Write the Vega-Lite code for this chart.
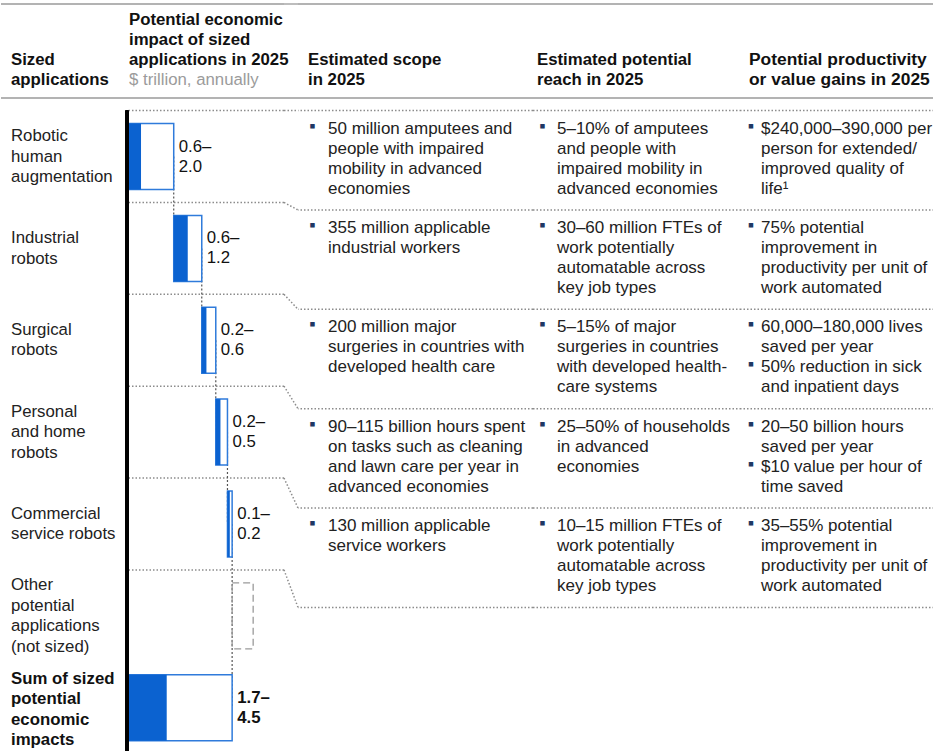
{
  "$schema": "https://vega.github.io/schema/vega-lite/v6.json",
  "autosize": {"type": "pad"},
  "padding": {"top": 3, "left": 0, "right": 0, "bottom": 0},
  "background": "white",
  "config": {
    "view": {"stroke": null},
    "font": "Liberation Sans",
    "text": {"font": "Liberation Sans", "fontSize": 16.8, "color": "#222222"}
  },
  "datasets": {
    "rows": [
      {"app": "Robotic human augmentation", "idx": 0, "label": "Robotic\nhuman\naugmentation", "start": 0, "lowEnd": 0.6, "highEnd": 2.0, "range": "0.6–\n2.0",
       "scope": "50 million amputees and\npeople with impaired\nmobility in advanced\neconomies",
       "reach": "5–10% of amputees\nand people with\nimpaired mobility in\nadvanced economies",
       "gains": "$240,000–390,000 per\nperson for extended/\nimproved quality of\nlife¹", "gainsBullets": 1},
      {"app": "Industrial robots", "idx": 1, "label": "Industrial\nrobots", "start": 2.0, "lowEnd": 2.6, "highEnd": 3.2, "range": "0.6–\n1.2",
       "scope": "355 million applicable\nindustrial workers",
       "reach": "30–60 million FTEs of\nwork potentially\nautomatable across\nkey job types",
       "gains": "75% potential\nimprovement in\nproductivity per unit of\nwork automated", "gainsBullets": 1},
      {"app": "Surgical robots", "idx": 2, "label": "Surgical\nrobots", "start": 3.2, "lowEnd": 3.4, "highEnd": 3.8, "range": "0.2–\n0.6",
       "scope": "200 million major\nsurgeries in countries with\ndeveloped health care",
       "reach": "5–15% of major\nsurgeries in countries\nwith developed health-\ncare systems",
       "gains": "60,000–180,000 lives\nsaved per year\n50% reduction in sick\nand inpatient days", "gainsBullets": 2},
      {"app": "Personal and home robots", "idx": 3, "label": "Personal\nand home\nrobots", "start": 3.8, "lowEnd": 4.0, "highEnd": 4.3, "range": "0.2–\n0.5",
       "scope": "90–115 billion hours spent\non tasks such as cleaning\nand lawn care per year in\nadvanced economies",
       "reach": "25–50% of households\nin advanced\neconomies",
       "gains": "20–50 billion hours\nsaved per year\n$10 value per hour of\ntime saved", "gainsBullets": 2},
      {"app": "Commercial service robots", "idx": 4, "label": "Commercial\nservice robots", "start": 4.3, "lowEnd": 4.4, "highEnd": 4.5, "range": "0.1–\n0.2",
       "scope": "130 million applicable\nservice workers",
       "reach": "10–15 million FTEs of\nwork potentially\nautomatable across\nkey job types",
       "gains": "35–55% potential\nimprovement in\nproductivity per unit of\nwork automated", "gainsBullets": 1},
      {"app": "Other potential applications (not sized)", "idx": 5, "label": "Other\npotential\napplications\n(not sized)", "start": 4.5, "boxEnd": 5.4},
      {"app": "Sum of sized potential economic impacts", "idx": 6, "label": "Sum of sized\npotential\neconomic\nimpacts", "bold": true, "start": 0, "lowEnd": 1.7, "highEnd": 4.5, "range": "1.7–\n4.5"}
    ],
    "links": [
      {"link": 1, "app": "Robotic human augmentation", "at": 2.0},
      {"link": 1, "app": "Industrial robots", "at": 2.0},
      {"link": 2, "app": "Industrial robots", "at": 3.2},
      {"link": 2, "app": "Surgical robots", "at": 3.2},
      {"link": 3, "app": "Surgical robots", "at": 3.8},
      {"link": 3, "app": "Personal and home robots", "at": 3.8},
      {"link": 4, "app": "Personal and home robots", "at": 4.3},
      {"link": 4, "app": "Commercial service robots", "at": 4.3},
      {"link": 5, "app": "Commercial service robots", "at": 4.5},
      {"link": 5, "app": "Sum of sized potential economic impacts", "at": 4.5}
    ],
    "bends": [
      {"app": "Robotic human augmentation", "side": "L", "shift": 0},
      {"app": "Robotic human augmentation", "side": "R", "shift": 0},
      {"app": "Industrial robots", "side": "L", "shift": 0},
      {"app": "Industrial robots", "side": "R", "shift": 1},
      {"app": "Surgical robots", "side": "L", "shift": 0},
      {"app": "Surgical robots", "side": "R", "shift": 2},
      {"app": "Personal and home robots", "side": "L", "shift": 0},
      {"app": "Personal and home robots", "side": "R", "shift": 3},
      {"app": "Commercial service robots", "side": "L", "shift": 0},
      {"app": "Commercial service robots", "side": "R", "shift": 4},
      {"app": "Other potential applications (not sized)", "side": "L", "shift": 0},
      {"app": "Other potential applications (not sized)", "side": "R", "shift": 5}
    ]
  },
  "spacing": 8.6,
  "bounds": "full",
  "vconcat": [
    {
      "spacing": 0,
      "bounds": "flush",
      "hconcat": [
        {"width": 126, "height": 94, "data": {"values": [{}]}, "layer": [
          {"mark": {"type": "rule", "stroke": "#9a9a9a", "strokeWidth": 1.3}, "encoding": {"y": {"value": 0}}},
          {"mark": {"type": "rule", "stroke": "#b3b3b3", "strokeWidth": 2}, "encoding": {"y": {"value": "height"}}},
          {"mark": {"type": "text", "text": ["Sized", "applications"], "align": "left", "baseline": "alphabetic", "lineHeight": 20, "fontWeight": "bold", "dx": 10, "dy": 60.5, "color": "#111111"}, "encoding": {"x": {"value": 0}, "y": {"value": 0}}}
        ]},
        {"width": 157, "height": 94, "data": {"values": [{}]}, "layer": [
          {"mark": {"type": "rule", "stroke": "#9a9a9a", "strokeWidth": 1.3}, "encoding": {"y": {"value": 0}}},
          {"mark": {"type": "rule", "stroke": "#b3b3b3", "strokeWidth": 2}, "encoding": {"y": {"value": "height"}}},
          {"mark": {"type": "text", "text": ["Potential economic", "impact of sized", "applications in 2025"], "align": "left", "baseline": "alphabetic", "lineHeight": 20, "fontWeight": "bold", "dx": 2, "dy": 20.5, "color": "#111111"}, "encoding": {"x": {"value": 0}, "y": {"value": 0}}},
          {"mark": {"type": "text", "text": "$ trillion, annually", "align": "left", "baseline": "alphabetic", "dx": 2, "dy": 80.5, "color": "#9b9b9b"}, "encoding": {"x": {"value": 0}, "y": {"value": 0}}}
        ]},
        {"width": 14, "height": 94, "data": {"values": [{}]}, "layer": [
          {"mark": {"type": "rule", "stroke": "#9a9a9a", "strokeWidth": 1.3}, "encoding": {"y": {"value": 0}}},
          {"mark": {"type": "rule", "stroke": "#b3b3b3", "strokeWidth": 2}, "encoding": {"y": {"value": "height"}}}
        ]},
        {"width": 235, "height": 94, "data": {"values": [{}]}, "layer": [
          {"mark": {"type": "rule", "stroke": "#9a9a9a", "strokeWidth": 1.3}, "encoding": {"y": {"value": 0}}},
          {"mark": {"type": "rule", "stroke": "#b3b3b3", "strokeWidth": 2}, "encoding": {"y": {"value": "height"}}},
          {"mark": {"type": "text", "text": ["Estimated scope", "in 2025"], "align": "left", "baseline": "alphabetic", "lineHeight": 20, "fontWeight": "bold", "dx": 10, "dy": 60.5, "color": "#111111"}, "encoding": {"x": {"value": 0}, "y": {"value": 0}}}
        ]},
        {"width": 208, "height": 94, "data": {"values": [{}]}, "layer": [
          {"mark": {"type": "rule", "stroke": "#9a9a9a", "strokeWidth": 1.3}, "encoding": {"y": {"value": 0}}},
          {"mark": {"type": "rule", "stroke": "#b3b3b3", "strokeWidth": 2}, "encoding": {"y": {"value": "height"}}},
          {"mark": {"type": "text", "text": ["Estimated potential", "reach in 2025"], "align": "left", "baseline": "alphabetic", "lineHeight": 20, "fontWeight": "bold", "dx": 4, "dy": 60.5, "color": "#111111"}, "encoding": {"x": {"value": 0}, "y": {"value": 0}}}
        ]},
        {"width": 193, "height": 94, "data": {"values": [{}]}, "layer": [
          {"mark": {"type": "rule", "stroke": "#9a9a9a", "strokeWidth": 1.3}, "encoding": {"y": {"value": 0}}},
          {"mark": {"type": "rule", "stroke": "#b3b3b3", "strokeWidth": 2}, "encoding": {"y": {"value": "height"}}},
          {"mark": {"type": "text", "text": ["Potential productivity", "or value gains in 2025"], "align": "left", "baseline": "alphabetic", "lineHeight": 20, "fontWeight": "bold", "fontSize": 17.4, "dx": 8, "dy": 60.5, "color": "#111111"}, "encoding": {"x": {"value": 0}, "y": {"value": 0}}}
        ]}
      ]
    },
    {
      "spacing": 0,
      "bounds": "flush",
      "hconcat": [
        {"width": 126, "height": 643, "data": {"name": "rows"},
         "encoding": {
           "x": {"value": 0},
           "y": {"field": "app", "type": "nominal", "scale": {"domain": ["Robotic human augmentation", "Industrial robots", "Surgical robots", "Personal and home robots", "Commercial service robots", "Other potential applications (not sized)", "Sum of sized potential economic impacts"], "paddingInner": 0, "paddingOuter": 0}, "axis": null},
           "text": {"field": "label"}
         },
         "layer": [
           {"transform": [{"filter": "!datum.bold && split(datum.label, '\\n').length == 2"}],
            "mark": {"type": "text", "align": "left", "baseline": "middle", "lineBreak": "\n", "lineHeight": 20.5, "dx": 10, "dy": -10.25}},
           {"transform": [{"filter": "!datum.bold && split(datum.label, '\\n').length == 3"}],
            "mark": {"type": "text", "align": "left", "baseline": "middle", "lineBreak": "\n", "lineHeight": 20.5, "dx": 10, "dy": -20.5}},
           {"transform": [{"filter": "!datum.bold && split(datum.label, '\\n').length == 4"}],
            "mark": {"type": "text", "align": "left", "baseline": "middle", "lineBreak": "\n", "lineHeight": 20.5, "dx": 10, "dy": -30.75}},
           {"transform": [{"filter": "datum.bold"}],
            "mark": {"type": "text", "align": "left", "baseline": "middle", "lineBreak": "\n", "lineHeight": 20.5, "dx": 10, "dy": -28.75, "fontWeight": "bold", "color": "#111111"}}
         ]},
        {"width": 157, "height": 643, "data": {"name": "rows"},
         "layer": [
           {"transform": [{"filter": "datum.idx <= 5"}],
            "mark": {"type": "rule", "stroke": "#8c8c8c", "strokeWidth": 1.5, "strokeDash": [1.5, 2]},
            "encoding": {"y": {"field": "app", "type": "nominal", "bandPosition": 0, "scale": {"domain": ["Robotic human augmentation", "Industrial robots", "Surgical robots", "Personal and home robots", "Commercial service robots", "Other potential applications (not sized)", "Sum of sized potential economic impacts"], "paddingInner": 0, "paddingOuter": 0}, "axis": null}}},
           {"data": {"name": "links"},
            "mark": {"type": "line", "stroke": "#555555", "strokeWidth": 1.2, "strokeDash": [2, 2]},
            "encoding": {
              "x": {"field": "at", "type": "quantitative", "scale": {"domain": [0, 6.72], "nice": false, "zero": true}, "axis": null},
              "y": {"field": "app", "type": "nominal", "scale": {"domain": ["Robotic human augmentation", "Industrial robots", "Surgical robots", "Personal and home robots", "Commercial service robots", "Other potential applications (not sized)", "Sum of sized potential economic impacts"], "paddingInner": 0, "paddingOuter": 0}, "axis": null},
              "detail": {"field": "link", "type": "nominal"}
            }},
           {"transform": [{"filter": "datum.lowEnd != null"}],
            "mark": {"type": "bar", "fill": "white", "stroke": "#2F7BDB", "strokeWidth": 1.5, "height": 66},
            "encoding": {
              "x": {"field": "start", "type": "quantitative", "scale": {"domain": [0, 6.72], "nice": false, "zero": true}, "axis": null},
              "x2": {"field": "highEnd"},
              "y": {"field": "app", "type": "nominal", "scale": {"domain": ["Robotic human augmentation", "Industrial robots", "Surgical robots", "Personal and home robots", "Commercial service robots", "Other potential applications (not sized)", "Sum of sized potential economic impacts"], "paddingInner": 0, "paddingOuter": 0}, "axis": null}
            }},
           {"transform": [{"filter": "datum.lowEnd != null"}],
            "mark": {"type": "bar", "fill": "#0B62D0", "height": 66},
            "encoding": {
              "x": {"field": "start", "type": "quantitative", "scale": {"domain": [0, 6.72], "nice": false, "zero": true}, "axis": null},
              "x2": {"field": "lowEnd"},
              "y": {"field": "app", "type": "nominal", "scale": {"domain": ["Robotic human augmentation", "Industrial robots", "Surgical robots", "Personal and home robots", "Commercial service robots", "Other potential applications (not sized)", "Sum of sized potential economic impacts"], "paddingInner": 0, "paddingOuter": 0}, "axis": null}
            }},
           {"transform": [{"filter": "datum.boxEnd != null"}],
            "mark": {"type": "bar", "fill": "white", "fillOpacity": 0, "stroke": "#9a9a9a", "strokeWidth": 1.3, "strokeDash": [7, 4], "height": 66},
            "encoding": {
              "x": {"field": "start", "type": "quantitative", "scale": {"domain": [0, 6.72], "nice": false, "zero": true}, "axis": null},
              "x2": {"field": "boxEnd"},
              "y": {"field": "app", "type": "nominal", "scale": {"domain": ["Robotic human augmentation", "Industrial robots", "Surgical robots", "Personal and home robots", "Commercial service robots", "Other potential applications (not sized)", "Sum of sized potential economic impacts"], "paddingInner": 0, "paddingOuter": 0}, "axis": null}
            }},
           {"transform": [{"filter": "datum.range != null && !datum.bold"}],
            "mark": {"type": "text", "align": "left", "baseline": "middle", "lineBreak": "\n", "lineHeight": 20, "dx": 5, "dy": -10, "color": "#111111"},
            "encoding": {
              "x": {"field": "highEnd", "type": "quantitative", "scale": {"domain": [0, 6.72], "nice": false, "zero": true}, "axis": null},
              "y": {"field": "app", "type": "nominal", "scale": {"domain": ["Robotic human augmentation", "Industrial robots", "Surgical robots", "Personal and home robots", "Commercial service robots", "Other potential applications (not sized)", "Sum of sized potential economic impacts"], "paddingInner": 0, "paddingOuter": 0}, "axis": null},
              "text": {"field": "range"}
            }},
           {"transform": [{"filter": "datum.range != null && datum.bold"}],
            "mark": {"type": "text", "align": "left", "baseline": "middle", "lineBreak": "\n", "lineHeight": 20, "dx": 5, "dy": -10, "fontWeight": "bold", "color": "#111111"},
            "encoding": {
              "x": {"field": "highEnd", "type": "quantitative", "scale": {"domain": [0, 6.72], "nice": false, "zero": true}, "axis": null},
              "y": {"field": "app", "type": "nominal", "scale": {"domain": ["Robotic human augmentation", "Industrial robots", "Surgical robots", "Personal and home robots", "Commercial service robots", "Other potential applications (not sized)", "Sum of sized potential economic impacts"], "paddingInner": 0, "paddingOuter": 0}, "axis": null},
              "text": {"field": "range"}
            }},
           {"mark": {"type": "rule", "stroke": "#000000", "strokeWidth": 3},
            "encoding": {"x": {"datum": 0, "type": "quantitative", "scale": {"domain": [0, 6.72], "nice": false, "zero": true}, "axis": null}}}
         ]},
        {"width": 14, "height": 643, "data": {"name": "bends"},
         "mark": {"type": "line", "stroke": "#8c8c8c", "strokeWidth": 1.5, "strokeDash": [1.5, 2]},
         "encoding": {
           "x": {"field": "side", "type": "nominal", "scale": {"type": "point", "domain": ["L", "R"], "padding": 0}, "axis": null},
           "y": {"field": "app", "type": "nominal", "bandPosition": 0, "scale": {"domain": ["Robotic human augmentation", "Industrial robots", "Surgical robots", "Personal and home robots", "Commercial service robots", "Other potential applications (not sized)", "Sum of sized potential economic impacts"], "paddingInner": 0, "paddingOuter": 0}, "axis": null},
           "yOffset": {"field": "shift", "type": "quantitative", "scale": {"domain": [0, 12.25], "nice": false, "zero": true}},
           "detail": {"field": "app", "type": "nominal"}
         }},
        {"width": 235, "height": 643, "data": {"name": "rows"},
         "encoding": {
           "y": {"field": "app", "type": "nominal", "bandPosition": 0, "scale": {"domain": ["Robotic human augmentation", "Industrial robots", "Surgical robots", "Personal and home robots", "Commercial service robots", "Other potential applications (not sized)", "Sum of sized potential economic impacts"], "paddingInner": 0, "paddingOuter": 0}, "axis": null},
           "yOffset": {"field": "idx", "type": "quantitative", "scale": {"domain": [0, 12.25], "nice": false, "zero": true}}
         },
         "layer": [
           {"transform": [{"filter": "datum.idx <= 5"}],
            "mark": {"type": "rule", "stroke": "#8c8c8c", "strokeWidth": 1.5, "strokeDash": [1.5, 2]}},
           {"transform": [{"filter": "datum.scope != null"}],
            "mark": {"type": "text", "text": "▪", "align": "center", "baseline": "middle", "fontSize": 18, "dx": 14.5, "dy": 16, "color": "#1F3864"},
            "encoding": {"x": {"value": 0}}},
           {"transform": [{"filter": "datum.scope != null"}],
            "mark": {"type": "text", "align": "left", "baseline": "top", "lineBreak": "\n", "lineHeight": 20, "fontSize": 17, "dx": 30, "dy": 10},
            "encoding": {"x": {"value": 0}, "text": {"field": "scope"}}}
         ]},
        {"width": 208, "height": 643, "data": {"name": "rows"},
         "encoding": {
           "y": {"field": "app", "type": "nominal", "bandPosition": 0, "scale": {"domain": ["Robotic human augmentation", "Industrial robots", "Surgical robots", "Personal and home robots", "Commercial service robots", "Other potential applications (not sized)", "Sum of sized potential economic impacts"], "paddingInner": 0, "paddingOuter": 0}, "axis": null},
           "yOffset": {"field": "idx", "type": "quantitative", "scale": {"domain": [0, 12.25], "nice": false, "zero": true}}
         },
         "layer": [
           {"transform": [{"filter": "datum.idx <= 5"}],
            "mark": {"type": "rule", "stroke": "#8c8c8c", "strokeWidth": 1.5, "strokeDash": [1.5, 2]}},
           {"transform": [{"filter": "datum.reach != null"}],
            "mark": {"type": "text", "text": "▪", "align": "center", "baseline": "middle", "fontSize": 18, "dx": 9.5, "dy": 16, "color": "#1F3864"},
            "encoding": {"x": {"value": 0}}},
           {"transform": [{"filter": "datum.reach != null"}],
            "mark": {"type": "text", "align": "left", "baseline": "top", "lineBreak": "\n", "lineHeight": 20, "fontSize": 17, "dx": 24, "dy": 10},
            "encoding": {"x": {"value": 0}, "text": {"field": "reach"}}}
         ]},
        {"width": 193, "height": 643, "data": {"name": "rows"},
         "encoding": {
           "y": {"field": "app", "type": "nominal", "bandPosition": 0, "scale": {"domain": ["Robotic human augmentation", "Industrial robots", "Surgical robots", "Personal and home robots", "Commercial service robots", "Other potential applications (not sized)", "Sum of sized potential economic impacts"], "paddingInner": 0, "paddingOuter": 0}, "axis": null},
           "yOffset": {"field": "idx", "type": "quantitative", "scale": {"domain": [0, 12.25], "nice": false, "zero": true}}
         },
         "layer": [
           {"transform": [{"filter": "datum.idx <= 5"}],
            "mark": {"type": "rule", "stroke": "#8c8c8c", "strokeWidth": 1.5, "strokeDash": [1.5, 2]}},
           {"transform": [{"filter": "datum.gains != null"}],
            "mark": {"type": "text", "text": "▪", "align": "center", "baseline": "middle", "fontSize": 18, "dx": 10, "dy": 16, "color": "#1F3864"},
            "encoding": {"x": {"value": 0}}},
           {"transform": [{"filter": "datum.gainsBullets == 2"}],
            "mark": {"type": "text", "text": "▪", "align": "center", "baseline": "middle", "fontSize": 18, "dx": 10, "dy": 56, "color": "#1F3864"},
            "encoding": {"x": {"value": 0}}},
           {"transform": [{"filter": "datum.gains != null"}],
            "mark": {"type": "text", "align": "left", "baseline": "top", "lineBreak": "\n", "lineHeight": 20, "fontSize": 17, "dx": 20, "dy": 10},
            "encoding": {"x": {"value": 0}, "text": {"field": "gains"}}}
         ]}
      ]
    }
  ]
}
